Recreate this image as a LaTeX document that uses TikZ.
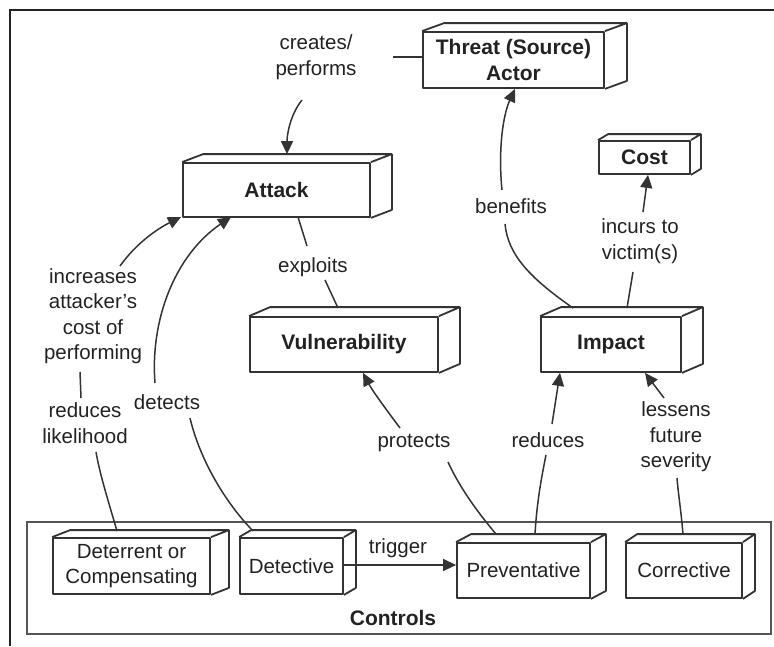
\documentclass[tikz,border=0pt]{standalone}
\usepackage{fontspec}
\setmainfont{Liberation Sans}
\usetikzlibrary{arrows.meta,calc}
\definecolor{ink}{HTML}{222222}
\definecolor{edge}{HTML}{333333}
\definecolor{frameg}{HTML}{555555}
% top and right faces of a box drawn as a cuboid
\newcommand\depthfaces[3]{%
  \draw[boxline] (#1.north west) -- ++(#2,#3) -- ($(#1.north east)+(#2,#3)$)
    -- ($(#1.south east)+(#2,#3)$) -- (#1.south east)
    (#1.north east) -- ++(#2,#3);}
\begin{document}
\begin{tikzpicture}[x=1pt,y=-1pt,
  boxline/.style={draw=edge,line width=1.8pt,line join=round},
  cube/.style={boxline,fill=white,rectangle,inner sep=0pt,align=center,
    text=ink,font=\fontsize{21}{26}\selectfont\bfseries},
  ctrl/.style={cube,font=\fontsize{20.5}{25.5}\selectfont},
  lbl/.style={text=ink,align=center,inner sep=1pt,
    font=\fontsize{20.5}{25.5}\selectfont},
  conn/.style={draw=edge,line width=1.5pt},
  arr/.style={conn,-{Triangle[length=13pt,width=12pt]}}]
\useasboundingbox (0,0) rectangle (774,646);

% outer frame (top and left edges)
\draw[ink,line width=2.6pt] (9,10) -- (774,10) (10,10) -- (10,646);

% group of controls
\draw[frameg,line width=1.5pt] (27,522) rectangle (771,634);
\node[lbl,font=\fontsize{21}{26}\selectfont\bfseries] (controls) at (393,618) {Controls};

% boxes
\node[cube,minimum width=181pt,minimum height=56pt] (threat) at (513.5,60) {Threat (Source)\\Actor};
\node[cube,minimum width=187pt,minimum height=54pt] (attack) at (276.5,190) {Attack};
\node[cube,minimum width=91pt,minimum height=33pt] (cost) at (644.5,157.5) {Cost};
\node[cube,minimum width=188pt,minimum height=55pt] (vuln) at (344,344.5) {Vulnerability};
\node[cube,minimum width=140pt,minimum height=55pt] (impact) at (611,344.5) {Impact};
\node[ctrl,minimum width=157pt,minimum height=56pt] (deter) at (131.5,566) {Deterrent or\\Compensating};
\node[ctrl,minimum width=103pt,minimum height=56pt] (detect) at (291.5,566) {Detective};
\node[ctrl,minimum width=133pt,minimum height=55pt] (prevent) at (523.5,570.5) {Preventative};
\node[ctrl,minimum width=116pt,minimum height=55pt] (correct) at (684,570.5) {Corrective};

\depthfaces{threat}{22}{-8}
\depthfaces{attack}{21}{-8}
\depthfaces{cost}{10}{-6}
\depthfaces{vuln}{21}{-9}
\depthfaces{impact}{21}{-9}
\depthfaces{deter}{18}{-7}
\depthfaces{detect}{12}{-7}
\depthfaces{prevent}{15}{-8}
\depthfaces{correct}{12}{-8}

% connector labels
\node[lbl] (lcreates) at (316,57) {creates/\\performs};
\node[lbl] (lexploits) at (313,267) {exploits};
\node[lbl] (lbenefits) at (511,206) {benefits};
\node[lbl] (lincurs) at (640,241) {incurs to\\victim(s)};
\node[lbl] (lincrease) at (93,316) {increases\\attacker’s\\cost of\\performing};
\node[lbl] (lreduces) at (85,423) {reduces\\likelihood};
\node[lbl] (ldetects) at (167,402) {detects};
\node[lbl] (lprotects) at (414,443) {protects};
\node[lbl] (lreduces2) at (548,440) {reduces};
\node[lbl] (llessens) at (676,437) {lessens\\future\\severity};
\node[lbl] (ltrigger) at (398,548) {trigger};

% attack points on the back edges of the boxes
\coordinate (atktop) at ($(attack.north)+(10.5,-8)$);
\coordinate (thrbot) at ($(threat.south)+(1.5,0)$);

% threat actor creates/performs the attack
\draw[conn] (threat.west |- 0,57) -- (393,57);
\draw[arr] (302,100) .. controls (290,115) and (287,135) .. (atktop);

% attack exploits vulnerability
\draw[conn] (298,217) -- (307,246);
\draw[conn] (325,280) -- (338,308);

% impact benefits the threat actor
\draw[conn] (573,308) .. controls (530,278) and (508,255) .. (505,224);
\draw[arr] (502,190) .. controls (498,150) and (503,115) .. (thrbot);

% impact incurs cost
\draw[conn] (627,308) -- (633,272);
\draw[arr] (643,212) -- (cost.south -| 648,0);

% deterrent reduces likelihood / increases cost of performing
\draw[conn] (117,531) .. controls (108,500) and (100,475) .. (96,452);
\draw[conn] (80,372) -- (81,398);
\draw[arr] (120,266) .. controls (135,245) and (155,230) .. (181,217);

% detective detects the attack
\draw[conn] (253,531) .. controls (225,502) and (200,460) .. (190,418);
\draw[arr] (155,383) .. controls (150,320) and (175,255) .. (231,217);

% detective triggers preventative
\draw[arr] (detect.east |- 0,565) -- (prevent.west |- 0,565);

% preventative protects vulnerability
\draw[conn] (496,534) .. controls (474,508) and (458,484) .. (448,462);
\draw[arr] (400,428) .. controls (385,408) and (372,390) .. (vuln.south -| 363,0);

% preventative reduces impact
\draw[conn] (535,534) .. controls (537,500) and (542,475) .. (546,455);
\draw[arr] (552,424) -- (impact.south -| 560,0);

% corrective lessens future severity
\draw[conn] (683,534) .. controls (681,510) and (678,492) .. (677,478);
\draw[arr] (664,398) -- (impact.south -| 645,0);
\end{tikzpicture}
\end{document}
